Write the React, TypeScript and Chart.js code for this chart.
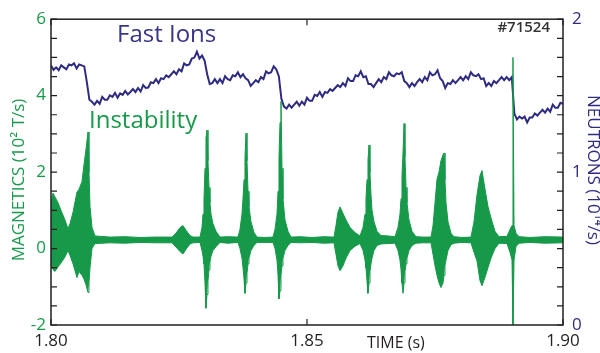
import React, { useEffect, useRef } from "react";
import { Chart, registerables } from "chart.js";

Chart.register(...registerables);

// ---- Data ----
// Magnetic fluctuation envelope (10^2 T/s): times in ms after 1.80 s
const magTimeMs = [
  0.0, 0.39, 0.78, 1.37, 1.95, 2.73, 3.32, 3.71, 4.3, 5.08, 5.47, 6.05, 6.45, 6.84, 7.23, 7.42, 7.62, 8.01, 8.59,
  11.52, 14.45, 17.38, 20.31, 23.63, 24.41, 25.2, 25.78, 26.37, 27.15, 27.73,
  29.1, 29.49, 29.69, 29.88, 30.08, 30.27, 30.47, 30.66, 30.86, 31.05, 31.25, 31.64, 32.23, 33.01,
  34.57, 36.52, 36.91, 37.3, 37.5, 37.7, 37.89, 38.09, 38.28, 38.48, 38.67, 39.06, 39.65, 40.23,
  41.8, 43.36, 43.75, 44.14, 44.34, 44.53, 44.73, 44.92, 45.12, 45.31, 45.7, 46.29, 46.88,
  48.63, 50.98, 53.32, 55.27, 55.66, 56.05, 56.45, 57.03, 57.62, 58.4, 59.38, 60.35,
  60.94, 61.33, 61.52, 61.72, 61.91, 62.11, 62.3, 62.5, 62.7, 63.09, 63.67, 64.45, 65.82,
  67.19, 67.77, 68.16, 68.36, 68.55, 68.75, 68.95, 69.14, 69.34, 69.53, 69.92, 70.51, 71.29, 72.66,
  74.22, 74.61, 75.0, 75.39, 75.78, 76.17, 76.56, 76.76, 76.95, 77.15, 77.54, 78.13, 78.71, 80.27,
  82.03, 82.62, 83.2, 83.79, 84.18, 84.77, 85.35, 85.94, 86.72, 87.5,
  89.06, 89.65, 90.04, 90.23, 90.43, 90.82, 91.41, 93.55, 96.48, 100.0,
];
const magUpper = [
  1.2, 1.45, 1.35, 1.2, 1.0, 0.75, 0.52, 0.65, 0.95, 1.48, 1.55, 1.75, 2.2, 2.6, 3.05, 2.0, 1.1, 0.55, 0.33,
  0.3, 0.31, 0.29, 0.3, 0.3, 0.4, 0.55, 0.6, 0.48, 0.34, 0.3,
  0.3, 0.55, 0.9, 1.3, 2.1, 2.9, 3.1, 2.3, 1.6, 1.2, 0.9, 0.65, 0.45, 0.3,
  0.31, 0.3, 0.5, 0.9, 1.3, 1.8, 2.4, 3.02, 2.3, 1.5, 1.1, 0.7, 0.42, 0.3,
  0.29, 0.3, 0.5, 0.9, 1.5, 2.4, 3.3, 3.85, 2.1, 1.3, 0.75, 0.45, 0.3,
  0.31, 0.29, 0.31, 0.3, 0.6, 0.95, 1.09, 0.92, 0.75, 0.55, 0.42, 0.33,
  0.55, 0.9, 1.3, 1.8, 2.3, 2.71, 2.0, 1.4, 1.0, 0.7, 0.45, 0.34, 0.33,
  0.31, 0.55, 0.9, 1.3, 1.9, 2.5, 3.27, 2.4, 1.6, 1.2, 0.75, 0.45, 0.31, 0.3,
  0.3, 0.6, 1.2, 1.81, 2.0, 2.3, 2.45, 2.5, 1.8, 1.2, 0.7, 0.4, 0.31, 0.29,
  0.3, 0.7, 1.4, 1.91, 2.04, 1.55, 1.1, 0.8, 0.45, 0.31,
  0.32, 0.5, 0.6, 5.0, 0.6, 0.4, 0.31, 0.29, 0.31, 0.3,
];
const magLower = [
  -0.45, -0.55, -0.6, -0.48, -0.38, -0.22, -0.05, -0.18, -0.4, -0.76, -0.6, -0.7, -0.8, -0.95, -1.15, -0.9, -0.5, 0.0, 0.13,
  0.15, 0.14, 0.16, 0.15, 0.15, 0.04, -0.08, -0.14, -0.02, 0.12, 0.15,
  0.16, -0.05, -0.2, -0.4, -0.9, -1.56, -1.2, -0.85, -0.55, -0.35, -0.2, -0.05, 0.05, 0.16,
  0.14, 0.16, 0.0, -0.25, -0.5, -0.8, -1.17, -0.9, -0.65, -0.4, -0.25, -0.05, 0.08, 0.16,
  0.16, 0.16, 0.0, -0.3, -0.7, -1.32, -1.1, -0.7, -0.45, -0.25, -0.05, 0.08, 0.16,
  0.15, 0.16, 0.14, 0.15, -0.15, -0.45, -0.58, -0.45, -0.25, -0.05, 0.06, 0.13,
  -0.05, -0.3, -0.5, -0.85, -1.17, -0.9, -0.6, -0.4, -0.25, -0.05, 0.08, 0.12, 0.13,
  0.14, -0.05, -0.3, -0.55, -0.9, -1.17, -0.9, -0.6, -0.4, -0.25, -0.05, 0.08, 0.14, 0.15,
  0.15, -0.15, -0.45, -0.7, -0.9, -1.02, -0.9, -0.7, -0.45, -0.3, -0.05, 0.1, 0.14, 0.16,
  0.15, -0.1, -0.32, -0.84, -0.97, -0.75, -0.5, -0.25, 0.0, 0.14,
  0.13, -0.1, -0.3, -2.0, -0.3, 0.05, 0.14, 0.16, 0.14, 0.15,
];

// Neutron rate (10^14 /s), sampled every 0.5 ms from 1.800 s
const NEUTRON_START = 1.8;
const NEUTRON_STEP = 0.0005;
const neutrons = [
  1.698, 1.669, 1.685, 1.666, 1.698, 1.685, 1.672, 1.704, 1.698, 1.711,
  1.678, 1.704, 1.698, 1.691, 1.588, 1.473, 1.46, 1.441, 1.466, 1.447,
  1.492, 1.473, 1.473, 1.502, 1.492, 1.518, 1.486, 1.515, 1.505, 1.531,
  1.508, 1.524, 1.543, 1.524, 1.55, 1.527, 1.569, 1.55, 1.553, 1.588,
  1.582, 1.608, 1.582, 1.614, 1.608, 1.633, 1.621, 1.64, 1.659, 1.64,
  1.672, 1.659, 1.711, 1.698, 1.704, 1.743, 1.749, 1.788, 1.743, 1.762,
  1.73, 1.64, 1.576, 1.582, 1.608, 1.582, 1.608, 1.582, 1.627, 1.608,
  1.601, 1.633, 1.627, 1.653, 1.621, 1.64, 1.614, 1.601, 1.563, 1.582,
  1.601, 1.588, 1.621, 1.608, 1.659, 1.646, 1.653, 1.691, 1.672, 1.627,
  1.479, 1.428, 1.415, 1.441, 1.421, 1.441, 1.46, 1.434, 1.46, 1.441,
  1.486, 1.466, 1.466, 1.505, 1.498, 1.524, 1.492, 1.524, 1.518, 1.543,
  1.531, 1.55, 1.569, 1.556, 1.582, 1.563, 1.614, 1.595, 1.595, 1.633,
  1.627, 1.659, 1.621, 1.627, 1.576, 1.576, 1.556, 1.582, 1.608, 1.588,
  1.621, 1.608, 1.653, 1.633, 1.627, 1.646, 1.64, 1.653, 1.595, 1.582,
  1.556, 1.582, 1.563, 1.588, 1.608, 1.588, 1.621, 1.601, 1.653, 1.633,
  1.64, 1.666, 1.614, 1.595, 1.55, 1.582, 1.576, 1.601, 1.582, 1.601,
  1.621, 1.601, 1.627, 1.608, 1.653, 1.633, 1.627, 1.64, 1.608, 1.614,
  1.563, 1.582, 1.563, 1.595, 1.582, 1.601, 1.621, 1.601, 1.621, 1.601,
  1.621, 1.383, 1.344, 1.363, 1.35, 1.363, 1.325, 1.357, 1.357, 1.383,
  1.37, 1.389, 1.408, 1.389, 1.415, 1.395, 1.441, 1.421, 1.421, 1.453,
  1.447,
];

// Ticks
const X_TICKS = [1.8, 1.85, 1.9];
const MAG_TICKS = [-2, 0, 2, 4, 6];
const NEU_TICKS = [0, 1, 2];
const MAG_MINOR = [-2, -1.5, -1, -0.5, 0, 0.5, 1, 1.5, 2, 2.5, 3, 3.5, 4, 4.5, 5, 5.5, 6];
const NEU_MINOR = [0, 0.125, 0.25, 0.375, 0.5, 0.625, 0.75, 0.875, 1, 1.125, 1.25, 1.375, 1.5, 1.625, 1.75, 1.875, 2];

const GREEN = "#17994a";
const PURPLE = "#2e2b80";
const FONT = "'Open Sans', 'Noto Sans', sans-serif";

const overlay = {
  id: "overlay",
  afterDraw(chart: any) {
    const { ctx, chartArea: a, scales } = chart;
    ctx.save();
    ctx.strokeStyle = "#231f20";
    ctx.lineWidth = 1.5;
    ctx.strokeRect(a.left, a.top, a.right - a.left, a.bottom - a.top);
    ctx.lineWidth = 1.2;
    ctx.beginPath();
    for (const v of MAG_MINOR) {
      const y = scales.y.getPixelForValue(v);
      ctx.moveTo(a.left, y);
      ctx.lineTo(a.left + 6, y);
    }
    for (const v of NEU_MINOR) {
      const y = scales.y2.getPixelForValue(v);
      ctx.moveTo(a.right - 6, y);
      ctx.lineTo(a.right, y);
    }
    for (const v of X_TICKS) {
      const x = scales.x.getPixelForValue(v);
      ctx.moveTo(x, a.top);
      ctx.lineTo(x, a.top + 6);
      ctx.moveTo(x, a.bottom - 6);
      ctx.lineTo(x, a.bottom);
    }
    ctx.stroke();

    // annotations
    ctx.textBaseline = "alphabetic";
    ctx.textAlign = "left";
    ctx.fillStyle = "#37348a";
    ctx.font = `24px ${FONT}`;
    ctx.fillText("Fast Ions", 117, 42);
    ctx.fillStyle = GREEN;
    ctx.fillText("Instability", 89, 128);
    ctx.fillStyle = "#333333";
    ctx.font = `600 15px ${FONT}`;
    ctx.textAlign = "right";
    ctx.fillText("#71524", 550, 32);

    // axis titles
    ctx.textAlign = "left";
    ctx.fillStyle = "#231f20";
    ctx.font = `16px ${FONT}`;
    ctx.fillText("TIME (s)", 367, 348);

    ctx.textAlign = "center";
    ctx.textBaseline = "middle";
    ctx.font = `17px ${FONT}`;
    ctx.save();
    ctx.translate(19, 180);
    ctx.rotate(-Math.PI / 2);
    ctx.fillStyle = GREEN;
    ctx.fillText("MAGNETICS (10\u00B2 T/s)", 0, 0);
    ctx.restore();
    ctx.save();
    ctx.translate(593, 170);
    ctx.rotate(Math.PI / 2);
    ctx.fillStyle = PURPLE;
    ctx.fillText("NEUTRONS (10\u00B9\u2074/s)", 0, 0);
    ctx.restore();
    ctx.restore();
  },
};

export default function App() {
  const ref = useRef<HTMLCanvasElement | null>(null);
  useEffect(() => {
    if (!ref.current) return;
    const magPts = (vals: number[]) => magTimeMs.map((ms, i) => ({ x: 1.8 + ms / 1000, y: vals[i] }));
    const neuPts = neutrons.map((v, i) => ({ x: NEUTRON_START + i * NEUTRON_STEP, y: v }));
    const chart = new Chart(ref.current, {
      type: "line",
      data: {
        datasets: [
          {
            label: "Magnetics upper",
            data: magPts(magUpper),
            yAxisID: "y",
            borderColor: GREEN,
            backgroundColor: GREEN,
            borderWidth: 1,
            pointRadius: 0,
            fill: "+1",
            tension: 0,
          },
          {
            label: "Magnetics lower",
            data: magPts(magLower),
            yAxisID: "y",
            borderColor: GREEN,
            backgroundColor: GREEN,
            borderWidth: 1,
            pointRadius: 0,
            fill: false,
            tension: 0,
          },
          {
            label: "Neutrons",
            data: neuPts,
            yAxisID: "y2",
            borderColor: PURPLE,
            borderWidth: 2,
            pointRadius: 0,
            fill: false,
            tension: 0,
          },
        ],
      },
      options: {
        animation: false,
        responsive: false,
        devicePixelRatio: 1,
        layout: { padding: { top: 14, left: 0, right: 0, bottom: 0 } },
        plugins: { legend: { display: false }, tooltip: { enabled: false } },
        scales: {
          x: {
            type: "linear",
            min: 1.8,
            max: 1.9,
            grid: { display: false, drawTicks: false },
            border: { display: false },
            afterBuildTicks: (s: any) => {
              s.ticks = X_TICKS.map((v) => ({ value: v }));
            },
            afterFit: (s: any) => {
              s.height = 28;
            },
            ticks: {
              autoSkip: false,
              maxRotation: 0,
              padding: 6,
              color: "#231f20",
              font: { family: FONT, size: 17 },
              callback: (v: any) => Number(v).toFixed(2),
            },
          },
          y: {
            type: "linear",
            position: "left",
            min: -2,
            max: 6,
            grid: { display: false, drawTicks: false },
            border: { display: false },
            afterBuildTicks: (s: any) => {
              s.ticks = MAG_TICKS.map((v) => ({ value: v }));
            },
            afterFit: (s: any) => {
              s.width = 51;
            },
            ticks: {
              padding: 5,
              color: GREEN,
              font: { family: FONT, size: 17 },
              callback: (v: any) => String(v),
            },
          },
          y2: {
            type: "linear",
            position: "right",
            min: 0,
            max: 2,
            grid: { display: false, drawTicks: false },
            border: { display: false },
            afterBuildTicks: (s: any) => {
              s.ticks = NEU_TICKS.map((v) => ({ value: v }));
            },
            afterFit: (s: any) => {
              s.width = 37;
            },
            ticks: {
              padding: 9,
              color: PURPLE,
              font: { family: FONT, size: 17 },
              callback: (v: any) => String(v),
            },
          },
        },
      },
      plugins: [overlay],
    });
    return () => chart.destroy();
  }, []);
  return (
    <div style={{ position: "fixed", left: 0, top: 0, width: 600, height: 353, background: "#fff" }}>
      <canvas ref={ref} width={600} height={353} style={{ display: "block", width: 600, height: 353 }} />
    </div>
  );
}
